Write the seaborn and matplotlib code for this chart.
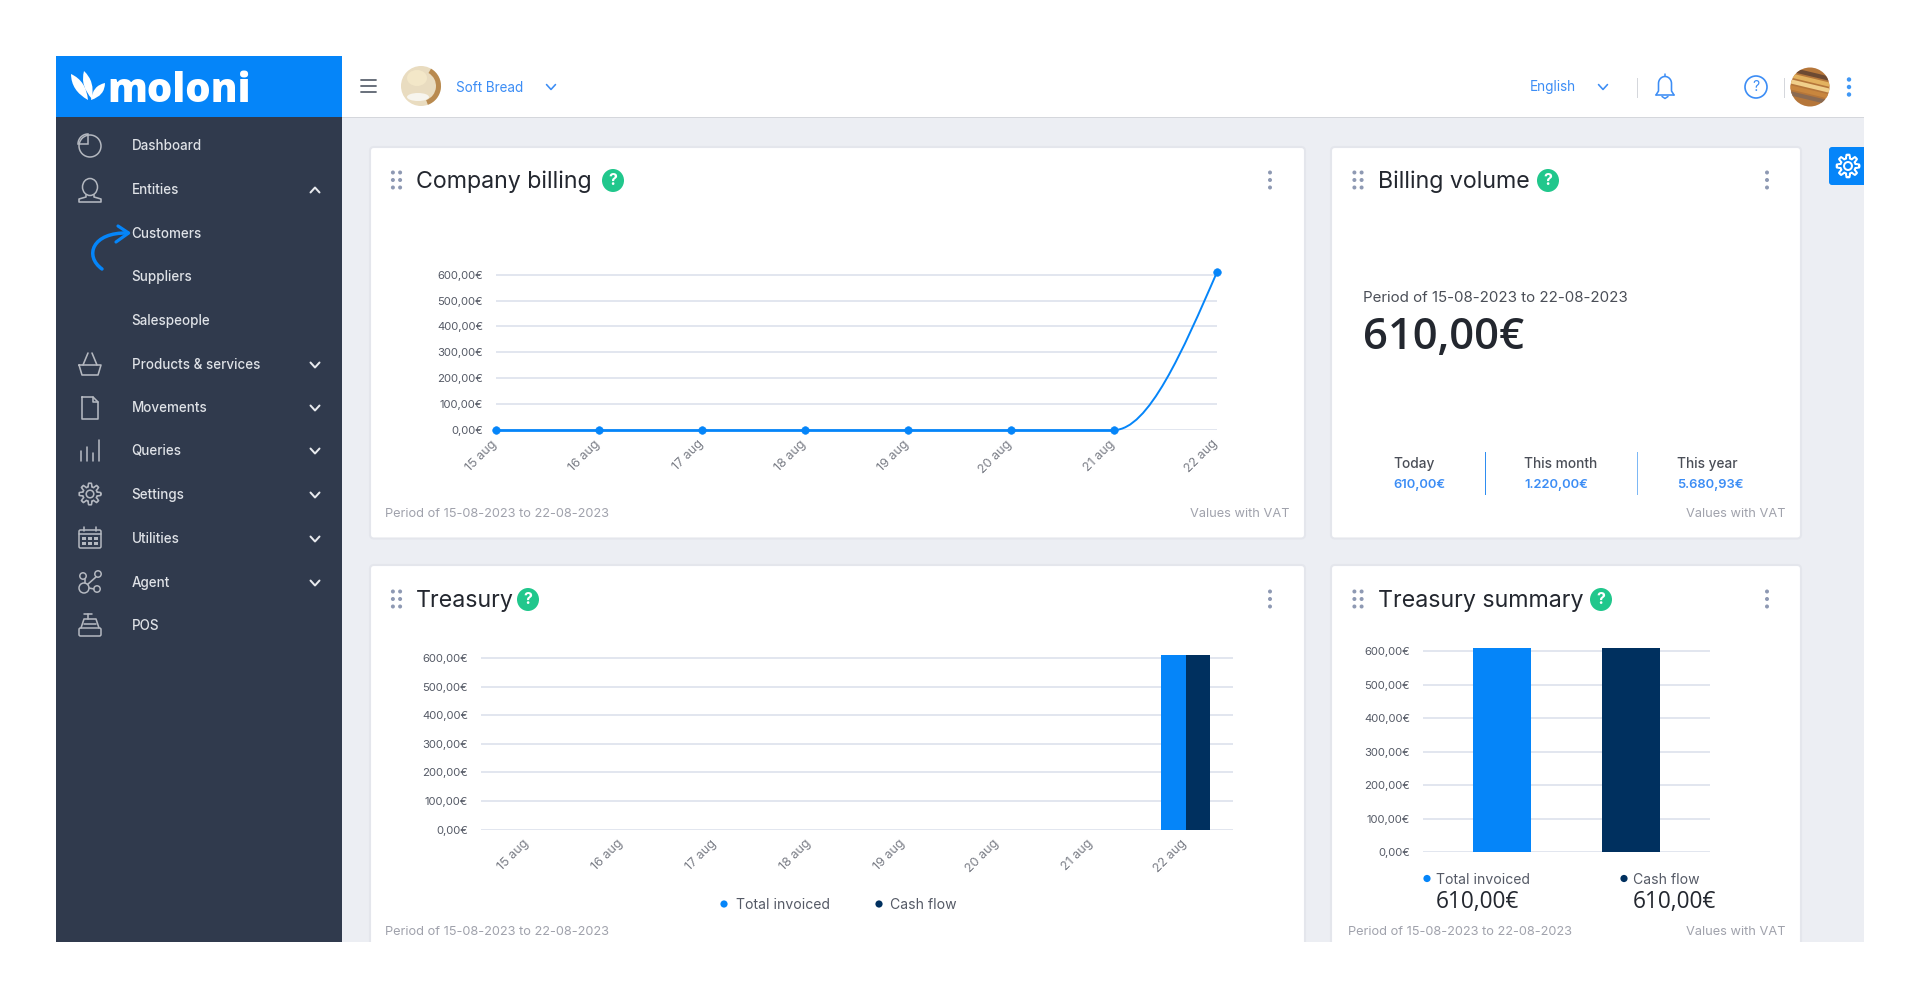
import numpy as np
import pandas as pd
import seaborn as sns
import matplotlib
matplotlib.use("Agg")
import matplotlib.pyplot as plt
from matplotlib.patches import Rectangle, Circle, FancyBboxPatch, PathPatch, Wedge, Ellipse
from matplotlib.path import Path
from matplotlib.transforms import ScaledTranslation

# ---------- data ----------
days = ["15 aug", "16 aug", "17 aug", "18 aug", "19 aug", "20 aug", "21 aug", "22 aug"]
billing_values = [0, 0, 0, 0, 0, 0, 0, 610]
treasury_invoiced = [0, 0, 0, 0, 0, 0, 0, 610]
treasury_cash = [0, 0, 0, 0, 0, 0, 0, 610]
summary_names = ["Total invoiced", "Cash flow"]
summary_values = [610, 610]
y_ticks = [0, 100, 200, 300, 400, 500, 600]
y_labels = ["0,00€", "100,00€", "200,00€", "300,00€", "400,00€", "500,00€", "600,00€"]
menu_items = ["Dashboard", "Entities", "Customers", "Suppliers", "Salespeople", "Products & services",
              "Movements", "Queries", "Settings", "Utilities", "Agent", "POS"]
menu_y = [145, 189, 233, 276, 320, 364, 407, 450, 494, 538, 582, 625]
menu_chevron = [None, "up", None, None, None, "down", "down", "down", "down", "down", "down", None]
period_text = "Period of 15-08-2023 to 22-08-2023"

# ---------- colours ----------
BLUE = "#0585f9"; NAVY = "#00305f"; SIDE = "#303a4d"; BG = "#eceef3"; GREEN = "#21c78c"
GRID = "#dde1ec"; INK = "#23272f"; MUTED = "#a0a2ac"; LINK = "#3c8df5"; ICON = "#b4b8c0"; DOT = "#8e99b3"

sns.set_theme(style="white")
FONT = ["Inter", "DejaVu Sans"]
plt.rcParams["font.family"] = FONT

W, H = 1920, 997
fig = plt.figure(figsize=(W / 100, H / 100), dpi=100, facecolor="white")
bgax = fig.add_axes([0, 0, 1, 1], zorder=0)
bgax.set_xlim(0, W); bgax.set_ylim(H, 0); bgax.axis("off")


def px(s):
    return s * 0.72


def T(x, y, s, size, color=INK, ha="left", va="center", weight="normal", family=None, ax=bgax):
    return ax.text(x, y + 1.5, s, fontsize=px(size), color=color, ha=ha, va=va, weight=weight,
                   family=family or FONT, zorder=6)


def R(x0, y0, x1, y1, color, z=1):
    bgax.add_patch(Rectangle((x0, y0), x1 - x0, y1 - y0, fc=color, ec="none", zorder=z))


def card(x0, y0, x1, y1):
    bgax.add_patch(FancyBboxPatch((x0, y0), x1 - x0, y1 - y0, boxstyle="round,pad=0,rounding_size=4",
                                  fc="white", ec="#e4e6ec", lw=1.5, zorder=2, clip_on=True,
                                  clip_path=Rectangle((0, 0), W, 942, transform=bgax.transData)))


def L(xs, ys, color=ICON, lw=1.6, z=5):
    bgax.plot(xs, ys, color=color, lw=lw * 0.72, solid_capstyle="round", solid_joinstyle="round", zorder=z)


def chevron(x, y, up=False, color="#e8eaee", lw=2.0, s=4.5):
    d = -1 if up else 1
    L([x - s, x, x + s], [y - d * s * 0.55, y + d * s * 0.55, y - d * s * 0.55], color, lw)


def badge(x, y):
    bgax.add_patch(Ellipse((x, y), 22, 23, fc=GREEN, ec="none", zorder=5))
    T(x, y - 1.5, "?", 16, "white", ha="center", weight="bold")


def grip(x, y):
    for dx in (-3.6, 3.6):
        for dy in (-7.5, 0, 7.5):
            bgax.add_patch(Circle((x + dx, y + dy), 2, fc=DOT, ec="none", zorder=5))


def kebab(x, y, color=DOT, r=2):
    for dy in (-7.5, 0, 7.5):
        bgax.add_patch(Circle((x, y + dy), r, fc=color, ec="none", zorder=5))


def gear(x, y, color, r=8.5, lw=1.6):
    th = np.linspace(0, 2 * np.pi, 97)
    rad = r * (0.86 + 0.17 * np.clip(np.cos(8 * th) * 2.2, -1, 1))
    L(x + rad * np.cos(th), y + rad * np.sin(th), color, lw)
    bgax.add_patch(Circle((x, y), r * 0.36, fc="none", ec=color, lw=lw * 0.72, zorder=5))


def petal(tip, base, w):
    tip, base = np.array(tip, float), np.array(base, float)
    d = tip - base
    n = np.array([-d[1], d[0]]) / np.hypot(*d) * w
    mid = base + d * 0.55
    verts = [base, mid + n, tip, mid - n, base]
    codes = [Path.MOVETO, Path.CURVE3, Path.CURVE3, Path.CURVE3, Path.CURVE3]
    bgax.add_patch(PathPatch(Path(verts, codes), fc="white", ec="none", zorder=5))


# ---------- page chrome ----------
R(56, 56, 1864, 942, BG, 0.5)
R(341, 56, 1864, 117, "white", 1)
R(341, 117, 1864, 118.5, "#d5d7dc", 1)
R(56, 117, 342, 942, SIDE, 1)
R(56, 56, 342, 117.5, BLUE, 1)

# logo
petal((71, 74), (88, 100), 9)
petal((84, 71), (92, 99), 8)
petal((105, 83), (91, 100), 8)
T(107, 90.5, "moloni", 40, "white", weight="heavy", family=["Open Sans", "DejaVu Sans"])

# top bar
for yy in (80, 86, 92):
    L([361, 376], [yy, yy], "#5c6470", 1.8)
bgax.add_patch(Circle((421, 86), 20, fc="#e9dcc0", ec="none", zorder=4))
bgax.add_patch(Wedge((421, 86), 20, 300, 70, width=5, fc="#b98a4f", ec="none", zorder=5))
bgax.add_patch(Ellipse((417, 78), 20, 16, fc="#f3e7c8", ec="none", zorder=5))
bgax.add_patch(Ellipse((418, 97), 22, 8, fc="#f7f5ee", ec="none", zorder=5))
T(456, 86, "Soft Bread", 13.5, LINK)
chevron(551, 87, color=LINK, lw=1.6)
T(1530, 86, "English", 13.6, LINK)
chevron(1603, 87, color=LINK, lw=1.6)
R(1637, 78, 1638, 98, "#d5d7dc", 5)
R(1783.5, 78, 1784.5, 98, "#d5d7dc", 5)
th = np.linspace(np.pi, 0, 30)
L(np.r_[1656, 1658.5, 1665 + 6.5 * np.cos(th), 1671.5, 1674],
  np.r_[95, 91, 83.5 - 7 * np.sin(th), 91, 95], LINK, 1.6)
L([1656, 1674], [95, 95], LINK, 1.6)
L([1662, 1665, 1668], [96.5, 98.5, 96.5], LINK, 1.5)
L([1665, 1665], [74.5, 76.5], LINK, 1.5)
bgax.add_patch(Circle((1756, 87), 11, fc="none", ec=LINK, lw=1.2, zorder=5))
T(1756, 85.5, "?", 14, LINK, ha="center")
bgax.add_patch(Circle((1810, 87), 19.5, fc="#b5763a", ec="none", zorder=4))
food_clip = Circle((1810, 87), 19.5, transform=bgax.transData)
for dy, c in ((-13, "#6d4a33"), (-7, "#e3b25f"), (-1, "#f0cf8b"), (5, "#c8863e"), (11, "#8a6a52")):
    ln, = bgax.plot([1785, 1835], [87 + dy - 6, 87 + dy + 6], color=c, lw=3, zorder=5)
    ln.set_clip_path(food_clip)
kebab(1849, 87, "#3f97f5", 2.2)
bgax.add_patch(FancyBboxPatch((1829, 147), 50, 38, boxstyle="round,pad=0,rounding_size=3", fc=BLUE, ec="none", zorder=3))
gear(1848, 166, "white", 11, 2)
R(1864, 140, 1890, 190, "white", 3.5)

# sidebar menu
for item, yy, ch in zip(menu_items, menu_y, menu_chevron):
    T(131.5, yy - 0.5, item, 13.4, "#dfe2e7", weight="medium")
    if ch:
        chevron(315, yy + 1, up=(ch == "up"))
ix = 90
# Dashboard
bgax.add_patch(Circle((ix, 146), 11, fc="none", ec=ICON, lw=1.1, zorder=5))
R(ix - 11.5, 134, ix + 1, 146, SIDE, 4.5)
bgax.add_patch(Wedge((ix - 2, 144), 10, 180, 270, fc="none", ec=ICON, lw=1.1, zorder=5))
# Entities
bgax.add_patch(Ellipse((ix, 187), 15, 17, fc="none", ec=ICON, lw=1.1, zorder=5))
L([ix - 4, ix - 4, ix - 11, ix - 11, ix + 11, ix + 11, ix + 4, ix + 4], [195, 197, 199, 202, 202, 199, 197, 195], ICON)
R(ix - 3, 194, ix + 3, 197, SIDE, 4.5)
# Products (basket)
L([ix - 11, ix + 11, ix + 8, ix - 8, ix - 11], [365, 365, 375, 375, 365], ICON)
L([ix - 7, ix - 2], [365, 353], ICON); L([ix + 7, ix + 2], [365, 353], ICON)
# Movements (doc)
L([ix - 8, ix + 3, ix + 8, ix + 8, ix - 8, ix - 8], [397, 397, 402, 419, 419, 397], ICON)
L([ix + 3, ix + 3, ix + 8], [397, 402, 402], ICON)
# Queries (bars)
for dx, top in ((-9, 451), (-3, 447), (3, 453), (9, 440)):
    L([ix + dx, ix + dx], [top, 461], ICON)
# Settings
gear(ix, 494, ICON, 10.5, 1.6)
# Utilities (calendar)
bgax.add_patch(FancyBboxPatch((ix - 11, 530), 22, 18, boxstyle="round,pad=0,rounding_size=1.5", fc="none", ec=ICON, lw=1.1, zorder=5))
L([ix - 11, ix + 11], [534, 534], ICON); L([ix - 6, ix - 6], [527, 531], ICON); L([ix + 6, ix + 6], [527, 531], ICON)
for dx in (-6, 0, 6):
    for yy in (538.5, 543.5):
        bgax.add_patch(Rectangle((ix + dx - 1.6, yy - 1.5), 3.2, 3, fc=ICON, ec="none", zorder=5))
# Agent (nodes)
for cx, cy, r in ((ix - 7, 576, 3.2), (ix + 8, 574, 3.2), (ix - 6, 588, 5), (ix + 7, 589, 3.2)):
    bgax.add_patch(Circle((cx, cy), r, fc="none", ec=ICON, lw=1.1, zorder=5))
L([ix - 5, ix - 5], [579, 583], ICON); L([ix + 6, ix - 2.5], [577, 584.5], ICON); L([ix - 1, ix + 4], [588, 589], ICON)
# POS (register)
bgax.add_patch(FancyBboxPatch((ix - 11, 628), 22, 8, boxstyle="round,pad=0,rounding_size=1.5", fc="none", ec=ICON, lw=1.1, zorder=5))
L([ix - 9, ix - 6, ix + 6, ix + 9], [628, 619, 619, 628], ICON); L([ix - 6, ix + 2], [614, 614], ICON); L([ix - 2, ix - 2], [614, 619], ICON)
L([ix - 6, ix + 6], [624, 624], ICON)
# Arrow on Customers
arrow = Path([(102, 269), (84, 256), (92, 232), (128, 233)], [Path.MOVETO, Path.CURVE4, Path.CURVE4, Path.CURVE4])
bgax.add_patch(PathPatch(arrow, fc="none", ec=BLUE, lw=2.5, zorder=7, capstyle="round"))
L([118, 128.6, 116], [226, 233, 242], BLUE, 3.2, 7)

# ---------- cards ----------
card(370, 147, 1305, 538.5)
card(1331, 147, 1801, 538.5)
card(370, 565, 1305, 960)
card(1331, 565, 1801, 960)
R(300, 942, 1890, 997, "white", 3.5)

title_size = 23.2
for x, y, s, bx, gx, kx in ((415.5, 180, "Company billing", 613, 396.5, 1270),
                            (1377.5, 180, "Billing volume", 1548, 1358, 1767),
                            (415.5, 599, "Treasury", 528, 396.5, 1270),
                            (1377.5, 599, "Treasury summary", 1601, 1358, 1767)):
    T(x, y + 0.5, s, title_size)
    badge(bx, y + 0.5)
    grip(gx, y)
    kebab(kx, y)

# footers
T(385, 512, period_text, 12.8, MUTED)
T(1290, 512, "Values with VAT", 12.8, MUTED, ha="right")
T(1785.5, 512, "Values with VAT", 12.8, MUTED, ha="right")
T(385, 930.5, period_text, 12.8, MUTED)
T(1348, 930.5, period_text, 12.8, MUTED)
T(1785.5, 930.5, "Values with VAT", 12.8, MUTED, ha="right")

# Billing volume panel
T(1363, 296, period_text, 15.1, "#4a4e57")
T(1363, 335.5, "610,00€", 43.5, INK, weight="semibold", family=["Open Sans", "DejaVu Sans"])
for x, head, val in ((1393.5, "Today", "610,00€"), (1524, "This month", "1.220,00€"), (1677, "This year", "5.680,93€")):
    T(x, 462, head, 13.7, "#4a4e57", weight="medium")
    T(x, 483, val, 13, LINK, weight="semibold")
R(1484.5, 452, 1485.5, 495, "#2f8df0", 5)
R(1636.5, 452, 1637.5, 495, "#7db8f5", 5)


# ---------- charts ----------
def chart_axes(x0, x1, y_zero, y_600, ymax=640, pad_px=13):
    unit = (y_zero - y_600) / 600
    top = y_zero - ymax * unit
    ax = fig.add_axes([x0 / W, 1 - y_zero / H, (x1 - x0) / W, (y_zero - top) / H], zorder=3)
    ax.patch.set_alpha(0)
    return ax, pad_px


def style_axes(ax, pad_px, ymax=640):
    ax.set_ylim(0, ymax)
    ax.set_yticks(y_ticks, y_labels)
    ax.grid(axis="y", color=GRID, lw=1.2, zorder=0)
    ax.grid(axis="x", visible=False)
    ax.set_axisbelow(True)
    sns.despine(ax=ax, left=True, bottom=True, top=True, right=True)
    ax.set_xlabel(""); ax.set_ylabel("")
    ax.tick_params(axis="y", length=0, pad=px(pad_px), labelsize=px(11.3), labelcolor="#555a66")
    ax.tick_params(axis="x", length=0, labelsize=px(12.6), labelcolor="#7a7d86")


def style_xticks(ax, pad):
    ax.tick_params(axis="x", pad=px(pad))
    shift = ScaledTranslation(-5 / 100, 0, fig.dpi_scale_trans)
    for lb in ax.get_xticklabels():
        lb.set_rotation(45); lb.set_ha("right"); lb.set_rotation_mode("anchor")
        lb.set_transform(lb.get_transform() + shift)


# Company billing: line with monotone cubic last segment
ax1, pad = chart_axes(496, 1217, 430, 274.7)
pos = np.arange(len(days))
vals = np.array(billing_values, dtype=float)
sns.lineplot(x=pos[:-1], y=vals[:-1], ax=ax1, color=BLUE, lw=2.0, errorbar=None, clip_on=False)
# the last segment follows the curve of the source: monotone cubic tangents from the data
h = pos[-1] - pos[-2]
slope = (vals[-1] - vals[-2]) / h
seg = Path([(pos[-2], vals[-2]), (pos[-2] + h / 3, vals[-2]),
            (pos[-1] - h / 3, vals[-1] - 1.5 * slope * h / 3), (pos[-1], vals[-1])],
           [Path.MOVETO, Path.CURVE4, Path.CURVE4, Path.CURVE4])
ax1.add_patch(PathPatch(seg, fc="none", ec=BLUE, lw=1.4, clip_on=False, zorder=4))
sns.scatterplot(x=pos, y=vals, ax=ax1, color=BLUE, s=30, edgecolor=BLUE, clip_on=False, zorder=5, legend=False)
ax1.set_xlim(0, len(days) - 1)
ax1.set_xticks(pos, days)
style_axes(ax1, pad)
style_xticks(ax1, 8)

# Treasury: grouped bars
ax2, pad = chart_axes(481, 1232.6, 829.7, 658)
tre = pd.DataFrame({"day": days * 2,
                    "value": treasury_invoiced + treasury_cash,
                    "series": [summary_names[0]] * len(days) + [summary_names[1]] * len(days)})
sns.barplot(data=tre, x="day", y="value", hue="series", palette=[BLUE, NAVY], width=0.52, gap=0,
            saturation=1, ax=ax2, legend=False, errorbar=None, linewidth=0)
style_axes(ax2, pad)
ax2.set_xlim(-0.5, len(days) - 0.5)
style_xticks(ax2, 8)

# Treasury summary
ax3, pad = chart_axes(1423, 1709.5, 852, 651.3)
sns.barplot(x=summary_names, y=summary_values, hue=summary_names, palette=[BLUE, NAVY], width=0.45,
            saturation=1, ax=ax3, legend=False, errorbar=None, linewidth=0)
style_axes(ax3, pad)
ax3.set_xlim(-0.608, 1.605)
ax3.set_xticks([])

# legends
for dx, tx, s in ((724, 736, summary_names[0]), (879, 890, summary_names[1])):
    bgax.add_patch(Circle((dx, 904), 3.6, fc=BLUE if s == summary_names[0] else NAVY, ec="none", zorder=5))
    T(tx, 903.5, s, 14, "#555a66")
for dx, tx, s, v in ((1427, 1436, summary_names[0], summary_values[0]), (1624, 1633, summary_names[1], summary_values[1])):
    bgax.add_patch(Circle((dx, 878.5), 3.6, fc=BLUE if s == summary_names[0] else NAVY, ec="none", zorder=5))
    T(tx, 878, s, 14, "#555a66")
    T(tx, 900.5, f"{v},00€", 22.6, INK, weight="medium", family=["Open Sans", "DejaVu Sans"])

fig.savefig("out.png", dpi=100, facecolor="white")
